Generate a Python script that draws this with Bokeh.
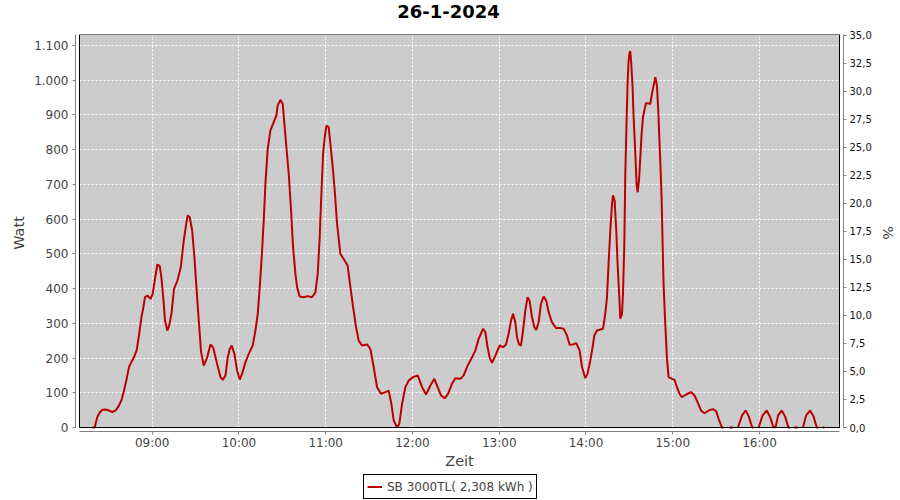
import numpy as np
from bokeh.plotting import figure
from bokeh.layouts import column
from bokeh.models import (Range1d, LinearAxis, FixedTicker, BoxAnnotation, Label,
                          Legend, LegendItem, ColumnDataSource)
from bokeh.embed import file_html
from bokeh.resources import INLINE

# ---------------- data ----------------
title_text = "26-1-2024"
y_label = "Watt"
x_label = "Zeit"
pct_label = "%"
series_name = "SB 3000TL( 2,308 kWh )"

hour_ticks = [9, 10, 11, 12, 13, 14, 15, 16]
hour_labels = ["09:00", "10:00", "11:00", "12:00", "13:00", "14:00", "15:00", "16:00"]
watt_ticks = [0, 100, 200, 300, 400, 500, 600, 700, 800, 900, 1000, 1100]
watt_labels = ["0", "100", "200", "300", "400", "500", "600", "700", "800", "900", "1.000", "1.100"]
pct_ticks = [0, 2.5, 5, 7.5, 10, 12.5, 15, 17.5, 20, 22.5, 25, 27.5, 30, 32.5, 35]
pct_labels = ["0,0", "2,5", "5,0", "7,5", "10,0", "12,5", "15,0", "17,5", "20,0",
              "22,5", "25,0", "27,5", "30,0", "32,5", "35,0"]

# axis extents
x_start, x_end = 8.1625, 16.9217      # hours
watt_top = 1131.0
pct_top = 35.06

# time of day in hours, power in watt (None = no data)
t_hours = [
    8.311, 8.338, 8.349, 8.368, 8.398, 8.426, 8.464, 8.502, 8.541, 8.579,
    8.617, 8.645, 8.675, 8.706, 8.733, 8.760, 8.790, 8.821, 8.848, 8.876,
    8.899, 8.917, 8.945, 8.983, 9.006, 9.029, 9.060, 9.087, 9.106, 9.129,
    9.148, 9.175, 9.194, 9.222, 9.252, 9.291, 9.330, 9.364, 9.395, 9.410,
    9.433, 9.461, 9.487, 9.510, 9.537, 9.564, 9.595, 9.634, 9.672, 9.703,
    9.749, 9.787, 9.814, 9.845, 9.871, 9.894, 9.917, 9.948, 9.979, 10.009,
    10.037, 10.075, 10.113, 10.159, 10.190, 10.217, 10.240, 10.267, 10.286, 10.305,
    10.332, 10.363, 10.401, 10.432, 10.447, 10.478, 10.505, 10.524, 10.547, 10.574,
    10.601, 10.624, 10.651, 10.670, 10.700, 10.747, 10.793, 10.843, 10.881, 10.908,
    10.931, 10.947, 10.970, 10.989, 11.008, 11.035, 11.054, 11.081, 11.104, 11.131,
    11.169, 11.207, 11.253, 11.285, 11.316, 11.350, 11.380, 11.419, 11.477, 11.515,
    11.553, 11.592, 11.638, 11.688, 11.726, 11.757, 11.784, 11.823, 11.849, 11.880,
    11.918, 11.956, 12.007, 12.060, 12.111, 12.157, 12.206, 12.252, 12.290, 12.330,
    12.371, 12.410, 12.456, 12.494, 12.552, 12.590, 12.636, 12.687, 12.725, 12.763,
    12.813, 12.840, 12.866, 12.889, 12.917, 12.955, 13.005, 13.044, 13.078, 13.108,
    13.136, 13.159, 13.185, 13.205, 13.228, 13.251, 13.274, 13.301, 13.327, 13.350,
    13.378, 13.404, 13.427, 13.454, 13.481, 13.511, 13.542, 13.569, 13.608, 13.654,
    13.704, 13.742, 13.781, 13.811, 13.850, 13.888, 13.926, 13.954, 13.992, 14.018,
    14.050, 14.076, 14.096, 14.127, 14.165, 14.196, 14.222, 14.242, 14.260, 14.280,
    14.300, 14.311, 14.330, 14.349, 14.364, 14.384, 14.395, 14.415, 14.426, 14.441,
    14.453, 14.464, 14.479, 14.491, 14.503, 14.510, 14.522, 14.537, 14.549, 14.560,
    14.572, 14.583, 14.595, 14.611, 14.626, 14.641, 14.657, 14.672, 14.691, 14.722,
    14.741, 14.760, 14.779, 14.799, 14.818, 14.833, 14.848, 14.860, 14.871, 14.883,
    14.894, 14.910, 14.921, 14.933, 14.952, 14.991, 15.021, 15.048, 15.078, 15.105,
    15.155, 15.210, 15.251, 15.286, 15.325, 15.366, 15.413, 15.463, 15.501, 15.528,
    15.567, 15.586, 15.620, 15.654, 15.693, 15.720, 15.751, 15.799, 15.841, 15.876,
    15.915, 15.930, 15.960, 15.990, 16.035, 16.084, 16.122, 16.161, 16.187, 16.214,
    16.256, 16.294, 16.333, 16.350, 16.370, 16.400, 16.440, 16.470, 16.500, 16.538,
    16.584, 16.622, 16.660, 16.680, 16.700, 16.730, 16.750,
]
watts = [
    0, 0, 12, 30, 44, 51, 52, 49, 44, 49,
    63, 78, 106, 140, 174, 188, 202, 222, 265, 317,
    346, 375, 380, 370, 385, 423, 469, 465, 433, 370,
    308, 279, 291, 327, 399, 423, 461, 538, 590, 610,
    605, 567, 490, 404, 308, 217, 178, 202, 239, 230,
    183, 145, 137, 150, 202, 226, 236, 212, 164, 138,
    155, 188, 212, 236, 279, 327, 404, 509, 596, 701,
    802, 855, 879, 898, 927, 943, 931, 874, 807, 730,
    624, 519, 442, 404, 377, 375, 378, 375, 389, 442,
    548, 653, 788, 835, 869, 864, 816, 749, 682, 586,
    500, 485, 466, 404, 346, 289, 250, 236, 239, 226,
    174, 116, 97, 102, 106, 68, 20, 0, 11, 68,
    116, 135, 145, 150, 116, 95, 121, 140, 116, 92,
    84, 97, 126, 142, 140, 150, 178, 202, 222, 255,
    284, 274, 231, 202, 186, 207, 236, 231, 239, 270,
    308, 327, 303, 260, 239, 236, 279, 337, 375, 365,
    317, 289, 281, 303, 356, 377, 365, 332, 303, 286,
    286, 284, 265, 238, 239, 243, 222, 174, 142, 155,
    193, 231, 265, 279, 282, 284, 327, 375, 471, 567,
    644, 668, 653, 567, 471, 375, 313, 327, 385, 519,
    730, 845, 989, 1056, 1080, 1083, 1047, 979, 893, 835,
    768, 701, 677, 711, 778, 845, 893, 912, 933, 933,
    931, 960, 984, 1008, 984, 912, 816, 740, 663, 529,
    414, 317, 260, 198, 145, 140, 137, 116, 97, 87,
    95, 102, 92, 73, 49, 41, 49, 53, 47, 25,
    0, 0, None, 0, 0, None, 0, 35, 49, 32,
    0, 0, None, 0, 35, 49, 30, 0, 3, 35,
    49, 32, 0, 0, None, 0, 0, None, 0, 35,
    49, 32, 0, 0, None, 0, 0,
]

# ---------------- layout ----------------
W = 900
H_title, H_main, H_leg = 24, 448, 28
b_left, b_right, b_top, b_bottom = 75, 57, 10, 41
frame_w = W - b_left - b_right
frame_h = H_main - b_top - b_bottom
gap = 4  # px between plot box and axes

inner_w = frame_w - 2 * gap
px_per_hour = inner_w / (x_end - x_start)
px_per_watt = (frame_h - gap) / watt_top
px_per_pct = (frame_h - gap) / pct_top

font = "DejaVu Sans"
line_color = "#bb0000"


def blank_figure(height):
    f = figure(width=W, height=height, output_backend="svg", toolbar_location=None,
               x_range=Range1d(0, 1), y_range=Range1d(0, 1),
               x_axis_type=None, y_axis_type=None,
               min_border=0, min_border_left=0, min_border_right=0,
               min_border_top=0, min_border_bottom=0,
               background_fill_color="white", border_fill_color="white",
               outline_line_color=None)
    f.grid.visible = False
    return f


src = ColumnDataSource(dict(t=np.array(t_hours, dtype=float),
                            w=np.array(watts, dtype=float)))

# ---- title strip (its frame is aligned with the main frame: starts at b_left) ----
pt = blank_figure(H_title)
pt.add_layout(Label(x=448 - b_left, y=12.7, x_units="screen", y_units="screen",
                    text=title_text, text_font=font, text_font_style="bold",
                    text_font_size="18px", text_align="center",
                    text_baseline="alphabetic", text_color="black"))

# ---- main chart ----
p = figure(width=W, height=H_main, output_backend="svg", toolbar_location=None,
           x_range=Range1d(x_start - gap / px_per_hour, x_end + gap / px_per_hour),
           y_range=Range1d(-gap / px_per_watt, watt_top),
           min_border_left=b_left, min_border_right=b_right,
           min_border_top=b_top, min_border_bottom=b_bottom,
           background_fill_color="white", border_fill_color="white",
           outline_line_color=None)
p.extra_y_ranges = {"pct": Range1d(-gap / px_per_pct, pct_top)}

bg_box = BoxAnnotation(left=x_start, right=x_end, bottom=0, top=watt_top,
                       fill_color="#cccccc", fill_alpha=1, line_color=None, level="underlay")
p.center = [bg_box] + list(p.center)
border_box = BoxAnnotation(left=x_start, right=x_end, bottom=0, top=watt_top,
                           fill_color=None, fill_alpha=0, line_color="black", line_width=1,
                           line_alpha=1)
p.add_layout(border_box)

xt = FixedTicker(ticks=hour_ticks)
yt = FixedTicker(ticks=watt_ticks)
p.xaxis.ticker = xt
p.xgrid.ticker = xt
p.yaxis.ticker = yt
p.ygrid.ticker = yt
p.grid.grid_line_color = "white"
p.grid.grid_line_dash = "2 2"
p.grid.grid_line_width = 1

p.xaxis.bounds = (x_start, x_end)
p.yaxis.bounds = (0, watt_top)
p.xaxis.major_label_overrides = dict(zip(hour_ticks, hour_labels))
p.yaxis.major_label_overrides = dict(zip(watt_ticks, watt_labels))

right = LinearAxis(y_range_name="pct", ticker=FixedTicker(ticks=pct_ticks),
                   bounds=(0, pct_top))
right.major_label_overrides = dict(zip(pct_ticks, pct_labels))
p.add_layout(right, "right")

for ax in [p.xaxis[0], p.yaxis[0], right]:
    ax.axis_line_color = "#808080"
    ax.major_tick_line_color = "#808080"
    ax.major_tick_out = 3
    ax.major_tick_in = 0
    ax.minor_tick_line_color = None
    ax.major_label_text_font = font
    ax.axis_label_text_font = font
    ax.axis_label_text_font_style = "normal"
    ax.axis_label_text_color = "#444444"
    ax.axis_label_text_font_size = "14.5px"

p.xaxis.major_label_text_font_size = "12px"
p.xaxis.major_label_text_color = "#444444"
p.xaxis.major_label_standoff = 1
p.xaxis.axis_label = x_label
p.xaxis.axis_label_standoff = 0

p.yaxis[0].major_label_text_font_size = "12px"
p.yaxis[0].major_label_text_color = "#444444"
p.yaxis[0].major_label_standoff = 4
p.yaxis[0].axis_label = y_label
p.yaxis[0].axis_label_standoff = 4

right.major_label_text_font_size = "10px"
right.major_label_text_color = "#111111"
right.major_label_standoff = 3
right.axis_label = pct_label
right.axis_label_standoff = 5

p.line(x="t", y="w", source=src, line_color=line_color, line_width=2)

# ---- legend strip (key renderer uses the same series; it lies outside this strip's range) ----
pl = blank_figure(H_leg)
key = pl.line(x="t", y="w", source=src, line_color=line_color, line_width=2)
legend = Legend(items=[LegendItem(label=series_name, renderers=[key])],
                location=(363 - b_left, 1), orientation="vertical",
                border_line_color="black", border_line_width=1, border_line_alpha=1,
                background_fill_color="white", background_fill_alpha=1,
                padding=3, spacing=0, margin=0,
                glyph_width=15, glyph_height=17, label_height=17, label_standoff=5,
                label_text_font=font, label_text_font_size="12px",
                label_text_color="#444444")
pl.add_layout(legend)

page = column(pt, p, pl, spacing=0)
open("out.html", "w").write(file_html(page, INLINE))
